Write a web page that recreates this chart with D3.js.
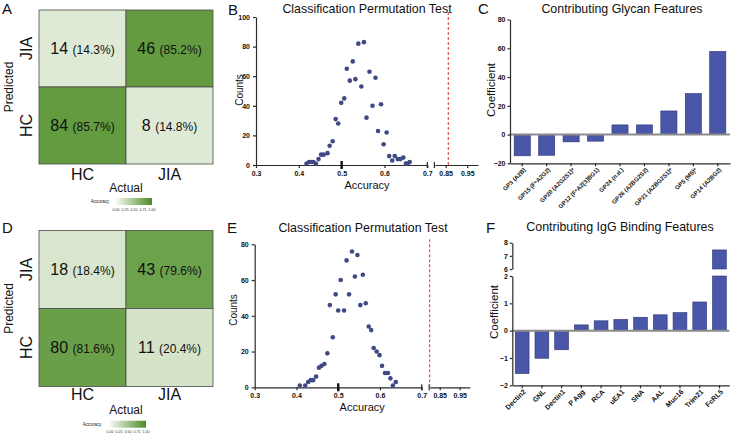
<!DOCTYPE html>
<html>
<head>
<meta charset="utf-8">
<script src="https://cdn.jsdelivr.net/npm/d3@7"></script>
<style>
  body { margin: 0; background: #fff; }
  text { font-family: "Liberation Sans", Arial, sans-serif; }
</style>
</head>
<body>
<div id="chart"></div>
<script>
// ---- confusion matrices (rows = predicted, top row first) ----
var cmActual = ['HC', 'JIA'];
var cmPredicted = ['JIA', 'HC'];
var glycanCounts = [[14, 46], [84, 8]];
var glycanPct = [[14.3, 85.2], [85.7, 14.8]];
var iggCounts = [[18, 43], [80, 11]];
var iggPct = [[18.4, 79.6], [81.6, 20.4]];
var legendTicks = [0, 0.25, 0.5, 0.75, 1];

// ---- permutation tests ----
var permGlycanAcc = [0.418, 0.424, 0.430, 0.434, 0.440, 0.446, 0.452, 0.458, 0.467, 0.472,
  0.479, 0.486, 0.492, 0.499, 0.506, 0.512, 0.519, 0.526, 0.532, 0.539, 0.546, 0.552, 0.558,
  0.565, 0.572, 0.579, 0.585, 0.592, 0.598, 0.605, 0.611, 0.618, 0.624, 0.631, 0.637, 0.644,
  0.650, 0.654, 0.659];
var permGlycanCounts = [1, 2, 2, 2, 1, 4, 7, 7, 8, 13, 16, 31, 28, 42, 45, 65, 57, 70, 58, 82,
  53, 83, 32, 63, 40, 59, 23, 41, 14, 22, 6, 3, 6, 4, 4, 5, 1, 1, 2];
var permGlycanObserved = 0.862;

var permIggAcc = [0.408, 0.421, 0.428, 0.434, 0.440, 0.447, 0.454, 0.460, 0.467, 0.474,
  0.480, 0.487, 0.494, 0.500, 0.506, 0.514, 0.520, 0.526, 0.533, 0.540, 0.546, 0.553, 0.559,
  0.566, 0.573, 0.579, 0.585, 0.592, 0.599, 0.605, 0.612, 0.619, 0.625, 0.631, 0.638];
var permIggCounts = [1, 1, 3, 4, 4, 6, 11, 12, 13, 19, 46, 28, 52, 43, 60, 43, 71, 52, 76, 62,
  74, 46, 63, 47, 34, 32, 22, 20, 18, 12, 8, 8, 5, 1, 3];
var permIggObserved = 0.80;

var accTicksLow = [0.3, 0.4, 0.5, 0.6, 0.7];
var accTicksHigh = [0.85, 0.95];

// ---- feature coefficients ----
var glycanFeatures = ['GP3 (A2B)', 'GP15 (F\u2076A2G2)', 'GP20 (A2G2S1)*', 'GP12 (F\u2076A2[3]BG1)',
  'GP24 (n.d.)', 'GP26 (A2BG2S2)', 'GP21 (A2BG2S1)*', 'GP5 (M5)*', 'GP14 (A2BG2)'];
var glycanCoef = [-14.8, -14.4, -5.1, -4.6, 6.7, 6.7, 16.4, 28.5, 57.8];

var iggFeatures = ['Dectin2', 'GNL', 'Dectin1', 'P Agg', 'RCA', 'uEA1', 'SNA', 'AAL',
  'Muc16', 'Trim21', 'FcRL5'];
var iggCoef = [-1.57, -1.01, -0.70, 0.21, 0.36, 0.41, 0.49, 0.58, 0.66, 1.05, 7.45];

var svg = d3.select('#chart').append('svg')
  .attr('width', 732)
  .attr('height', 434);

var green = d3.scaleLinear().domain([0, 1]).range(['#f8faf4', '#4a8b22'])
  .interpolate(d3.interpolateRgb);

var gradient = svg.append('defs').append('linearGradient').attr('id', 'accGrad');
legendTicks.forEach(function (t) {
  gradient.append('stop').attr('offset', (t * 100) + '%').attr('stop-color', green(t));
});

function panelLetter(x, y, s) {
  svg.append('text').attr('x', x).attr('y', y).attr('font-size', 15).attr('fill', '#111').text(s);
}

function title(x, y, s) {
  svg.append('text').attr('x', x).attr('y', y).attr('text-anchor', 'middle')
    .attr('font-size', 12.4).attr('fill', '#111').text(s);
}

function drawConfusion(cfg) {
  var g = svg.append('g');
  var x = d3.scaleBand().domain(cmActual).range([cfg.x0, cfg.x1]);
  var y = d3.scaleBand().domain(cmPredicted).range([cfg.y0, cfg.y1]);

  cmPredicted.forEach(function (row, i) {
    cmActual.forEach(function (col, j) {
      g.append('rect')
        .attr('x', x(col)).attr('y', y(row))
        .attr('width', x.bandwidth()).attr('height', y.bandwidth())
        .attr('fill', green(cfg.pct[i][j] / 100))
        .attr('stroke', '#4a4a4a').attr('stroke-width', 0.8);
      var t = g.append('text')
        .attr('x', x(col) + x.bandwidth() / 2)
        .attr('y', y(row) + y.bandwidth() / 2 + 5)
        .attr('text-anchor', 'middle').attr('fill', '#111');
      t.append('tspan').attr('font-size', 16).text(cfg.counts[i][j] + ' ');
      t.append('tspan').attr('font-size', 12).text('(' + cfg.pct[i][j].toFixed(1) + '%)');
    });
  });

  cmActual.forEach(function (col) {
    g.append('text').attr('x', x(col) + x.bandwidth() / 2).attr('y', cfg.labelY)
      .attr('text-anchor', 'middle').attr('font-size', 16).attr('fill', '#111').text(col);
  });
  cmPredicted.forEach(function (row) {
    var cy = y(row) + y.bandwidth() / 2;
    g.append('text').attr('transform', 'translate(32,' + cy + ') rotate(-90)')
      .attr('text-anchor', 'middle').attr('font-size', 16).attr('fill', '#111').text(row);
  });
  g.append('text').attr('x', (cfg.x0 + cfg.x1) / 2).attr('y', cfg.actualY)
    .attr('text-anchor', 'middle').attr('font-size', 12).attr('fill', '#111').text('Actual');
  g.append('text').attr('transform', 'translate(13,' + (cfg.y0 + cfg.y1) / 2 + ') rotate(-90)')
    .attr('text-anchor', 'middle').attr('font-size', 12).attr('fill', '#111').text('Predicted');

  // colour legend
  var lg = cfg.legend;
  var lx = d3.scaleLinear().domain([0, 1]).range([lg.x, lg.x + lg.w]);
  g.append('rect').attr('x', lg.x).attr('y', lg.y).attr('width', lg.w).attr('height', 7)
    .attr('fill', 'url(#accGrad)');
  g.append('text').attr('x', lg.labelX).attr('y', lg.y + 5).attr('text-anchor', 'middle')
    .attr('font-size', 4.5).attr('fill', '#222').text('Accuracy');
  g.selectAll('.lt').data(legendTicks).enter().append('text')
    .attr('x', function (d) { return lx(d); })
    .attr('y', lg.y + 12.5)
    .attr('text-anchor', 'middle').attr('font-size', 3.6).attr('fill', '#333')
    .text(d3.format('.2f'));
}

function styleAxis(sel) {
  sel.selectAll('path, line').attr('stroke', '#2a2a2a').attr('stroke-width', 1.2);
  sel.selectAll('text').attr('font-size', 7).attr('font-weight', 'bold').attr('fill', '#111');
}

function drawPermutation(cfg) {
  var g = svg.append('g');
  var xLow = d3.scaleLinear().domain([0.3, 0.7]).range([cfg.x0, cfg.x1]);
  var xHigh = d3.scaleLinear().domain([0.8, 1.0]).range([cfg.x2, cfg.x3]);
  var y = d3.scaleLinear().domain([0, cfg.yMax]).range([cfg.yBot, cfg.yTop]);

  g.append('g').attr('transform', 'translate(0,' + cfg.yBot + ')')
    .call(d3.axisBottom(xLow).tickValues(accTicksLow).tickFormat(d3.format('.1f'))
      .tickSize(3).tickSizeOuter(0))
    .call(styleAxis);
  g.append('g').attr('transform', 'translate(0,' + cfg.yBot + ')')
    .call(d3.axisBottom(xHigh).tickValues(accTicksHigh).tickFormat(d3.format('.2f'))
      .tickSize(3).tickSizeOuter(0))
    .call(styleAxis);
  g.append('g').attr('transform', 'translate(' + cfg.x0 + ',0)')
    .call(d3.axisLeft(y).ticks(cfg.yMax / 20).tickSize(3).tickSizeOuter(0))
    .call(styleAxis);

  // axis break marks and the thick tick at 0.5
  [cfg.x1, cfg.x2 - 0.5].forEach(function (bx) {
    g.append('line').attr('x1', bx).attr('x2', bx)
      .attr('y1', cfg.yBot - 3).attr('y2', cfg.yBot + 3)
      .attr('stroke', '#2a2a2a').attr('stroke-width', 1.2);
  });
  g.append('line').attr('x1', xLow(0.5)).attr('x2', xLow(0.5))
    .attr('y1', cfg.yBot - 4).attr('y2', cfg.yBot + 4)
    .attr('stroke', '#111').attr('stroke-width', 2.4);

  g.append('line').attr('x1', xHigh(cfg.observed)).attr('x2', xHigh(cfg.observed))
    .attr('y1', cfg.yTop - 5).attr('y2', cfg.yBot)
    .attr('stroke', '#d8352d').attr('stroke-width', 1).attr('stroke-dasharray', '3,2');

  g.selectAll('circle').data(cfg.acc).enter().append('circle')
    .attr('cx', function (d) { return xLow(d); })
    .attr('cy', function (d, i) { return y(cfg.counts[i]); })
    .attr('r', 2.3)
    .attr('fill', '#3f4a85');

  g.append('text').attr('x', (cfg.x0 + cfg.x3) / 2).attr('y', cfg.xLabelY)
    .attr('text-anchor', 'middle').attr('font-size', 11).attr('fill', '#111').text('Accuracy');
  g.append('text').attr('transform', 'translate(' + cfg.yLabelX + ',' + cfg.yLabelY + ') rotate(-90)')
    .attr('text-anchor', 'middle').attr('font-size', 10).attr('fill', '#111').text('Counts');
}

function drawBars(cfg) {
  var g = svg.append('g');
  var x = d3.scaleBand().domain(cfg.features).range(cfg.xRange)
    .paddingInner(cfg.padding).paddingOuter(cfg.padding / 2);
  var y = d3.scaleLinear().domain(cfg.lower.domain).range(cfg.lower.range);
  var yU = cfg.upper ? d3.scaleLinear().domain(cfg.upper.domain).range(cfg.upper.range) : null;
  var lowMax = cfg.lower.domain[1];

  cfg.features.forEach(function (f, i) {
    var v = cfg.values[i];
    var top = Math.min(v, lowMax);
    g.append('rect')
      .attr('x', x(f)).attr('width', x.bandwidth())
      .attr('y', y(Math.max(0, top)))
      .attr('height', Math.abs(y(top) - y(0)))
      .attr('fill', '#4a56a8').attr('stroke', '#2b3474').attr('stroke-width', 0.6);
    if (yU && v > lowMax) {
      g.append('rect')
        .attr('x', x(f)).attr('width', x.bandwidth())
        .attr('y', yU(v))
        .attr('height', yU(cfg.upper.domain[0]) - yU(v))
        .attr('fill', '#4a56a8').attr('stroke', '#2b3474').attr('stroke-width', 0.6);
    }
  });

  g.append('line').attr('x1', cfg.xRange[0]).attr('x2', cfg.xRange[1])
    .attr('y1', y(0)).attr('y2', y(0))
    .attr('stroke', '#8c8c8c').attr('stroke-width', 2);

  var xa = g.append('g').attr('transform', 'translate(0,' + y(cfg.lower.domain[0]) + ')')
    .call(d3.axisBottom(x).tickSize(3).tickSizeOuter(0))
    .call(styleAxis);
  xa.selectAll('text')
    .attr('font-size', cfg.labelSize)
    .attr('x', 0).attr('y', 0).attr('dy', 0)
    .attr('transform', 'translate(4,7) rotate(-45)')
    .style('text-anchor', 'end');

  g.append('g').attr('transform', 'translate(' + cfg.xRange[0] + ',0)')
    .call(d3.axisLeft(y).tickValues(cfg.lower.ticks).tickFormat(d3.format('d'))
      .tickSize(2.5).tickPadding(2).tickSizeOuter(0))
    .call(styleAxis);
  if (yU) {
    g.append('g').attr('transform', 'translate(' + cfg.xRange[0] + ',0)')
      .call(d3.axisLeft(yU).tickValues(cfg.upper.ticks).tickFormat(d3.format('d'))
        .tickSize(2.5).tickPadding(2).tickSizeOuter(0))
      .call(styleAxis);
  }

  g.append('text').attr('transform', 'translate(' + cfg.yLabelX + ',' + cfg.yLabelY + ') rotate(-90)')
    .attr('text-anchor', 'middle').attr('font-size', 11.5).attr('fill', '#111').text('Coefficient');
}

// ---- top row ----
panelLetter(2, 14, 'A');
drawConfusion({
  x0: 39, x1: 213, y0: 10, y1: 164,
  counts: glycanCounts, pct: glycanPct,
  labelY: 180, actualY: 191.5,
  legend: { x: 116, w: 36, y: 198, labelX: 100 }
});

panelLetter(228, 15, 'B');
title(367, 12.5, 'Classification Permutation Test');
drawPermutation({
  x0: 256, x1: 427.3, x2: 434.9, x3: 478,
  yTop: 17, yBot: 165, yMax: 100,
  acc: permGlycanAcc, counts: permGlycanCounts, observed: permGlycanObserved,
  xLabelY: 189, yLabelX: 243, yLabelY: 90
});

panelLetter(478, 14, 'C');
title(622, 13, 'Contributing Glycan Features');
drawBars({
  features: glycanFeatures, values: glycanCoef,
  xRange: [510, 730], padding: 0.34, labelSize: 6,
  lower: { domain: [-20, 80], range: [163.3, 19.5], ticks: [-20, 0, 20, 40, 60, 80] },
  upper: null,
  yLabelX: 495, yLabelY: 90
});

// ---- bottom row ----
panelLetter(2, 233, 'D');
drawConfusion({
  x0: 39, x1: 213, y0: 230.5, y1: 386.5,
  counts: iggCounts, pct: iggPct,
  labelY: 400, actualY: 414,
  legend: { x: 110, w: 36, y: 420.7, labelX: 92 }
});

panelLetter(227, 233, 'E');
title(363, 232, 'Classification Permutation Test');
drawPermutation({
  x0: 254.7, x1: 421.7, x2: 429.7, x3: 469.7,
  yTop: 244.3, yBot: 387.3, yMax: 80,
  acc: permIggAcc, counts: permIggCounts, observed: permIggObserved,
  xLabelY: 411, yLabelX: 237, yLabelY: 310
});

panelLetter(486, 233, 'F');
title(620, 231, 'Contributing IgG Binding Features');
drawBars({
  features: iggFeatures, values: iggCoef,
  xRange: [512.3, 729.3], padding: 0.3, labelSize: 7,
  lower: { domain: [-2, 2], range: [385.3, 276], ticks: [-2, -1, 0, 1, 2] },
  upper: { domain: [6, 8], range: [269, 242.7], ticks: [6, 7, 8] },
  yLabelX: 498, yLabelY: 312
});
</script>
</body>
</html>
